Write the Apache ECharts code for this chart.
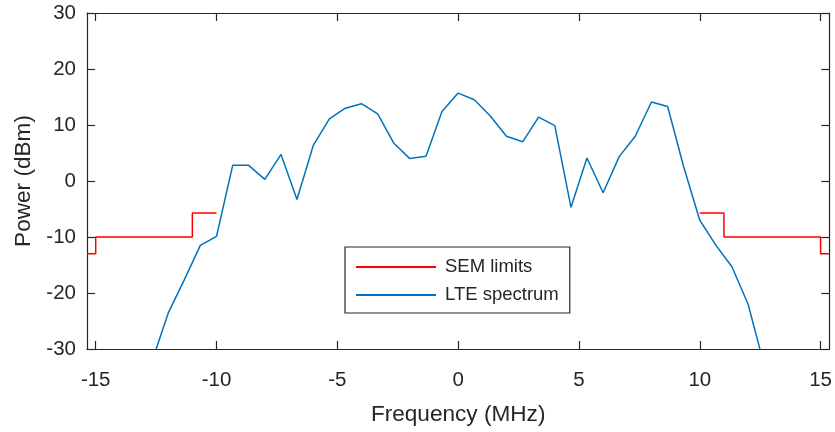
<!DOCTYPE html>
<html>
<head>
<meta charset="utf-8">
<script src="https://cdn.jsdelivr.net/npm/echarts@6/dist/echarts.min.js"></script>
<style>
html,body{margin:0;padding:0;background:#fff;}
#c{width:835px;height:432px;}
</style>
</head>
<body>
<div id="c"></div>
<script>
// ---- data ----
const lteFreq = [-12.67, -12, -11.33, -10.67, -10, -9.33, -8.67, -8, -7.33, -6.67, -6, -5.33, -4.67, -4, -3.33, -2.67, -2, -1.33, -0.67, 0, 0.67, 1.33, 2, 2.67, 3.33, 4, 4.67, 5.33, 6, 6.67, 7.33, 8, 8.67, 9.33, 10, 10.67, 11.33, 12, 12.67];
const ltePower = [-32.2, -23.6, -17.6, -11.5, -9.9, 2.8, 2.8, 0.3, 4.75, -3.3, 6.3, 11.1, 13.0, 13.8, 12.0, 6.8, 4.0, 4.4, 12.4, 15.7, 14.5, 11.6, 8.0, 7.0, 11.4, 9.9, -4.7, 4.1, -2.1, 4.4, 8.0, 14.1, 13.3, 2.6, -7.0, -11.5, -15.3, -22.0, -33.0];
const semLeftFreq = [-15.36, -15, -15, -11, -11, -10];
const semLeftPower = [-13, -13, -10, -10, -5.7, -5.7];
const semRightFreq = [10, 11, 11, 15, 15, 15.36];
const semRightPower = [-5.7, -5.7, -10, -10, -13, -13];
const xTicks = [-15, -10, -5, 0, 5, 10, 15];
const yTicks = [-30, -20, -10, 0, 10, 20, 30];
const xRange = [-15.36, 15.36];
const yRange = [-30, 30];
const seriesNames = ['SEM limits', 'LTE spectrum'];

const zip = (a, b) => a.map((v, i) => [v, b[i]]);
const FONT = "'Liberation Sans', Arial, Helvetica, sans-serif";
const AX = '#262626';

const chart = echarts.init(document.getElementById('c'), null, {renderer: 'canvas'});

const baseX = {
  type: 'value', min: xRange[0], max: xRange[1],
  splitLine: {show: false},
  axisLine: {onZero: false, lineStyle: {color: AX, width: 1.2}},
  axisTick: {inside: true, length: 8, lineStyle: {color: AX, width: 1.2}, customValues: xTicks},
};
const baseY = {
  type: 'value', min: yRange[0], max: yRange[1], interval: 10,
  splitLine: {show: false},
  axisLine: {onZero: false, lineStyle: {color: AX, width: 1.2}},
  axisTick: {inside: true, length: 8, lineStyle: {color: AX, width: 1.2}, customValues: yTicks},
};

chart.setOption({
  animation: false,
  textStyle: {fontFamily: FONT},
  grid: {left: 87, top: 13, right: 4, bottom: 83, containLabel: false},
  xAxis: [
    Object.assign({}, baseX, {
      position: 'bottom',
      name: 'Frequency (MHz)', nameLocation: 'middle', nameGap: 54,
      nameTextStyle: {color: AX, fontSize: 22.6, fontFamily: FONT},
      axisLabel: {color: AX, fontSize: 20.5, fontFamily: FONT, margin: 21, customValues: xTicks}
    }),
    Object.assign({}, baseX, {position: 'top', axisLabel: {show: false}})
  ],
  yAxis: [
    Object.assign({}, baseY, {
      position: 'left',
      name: 'Power (dBm)', nameLocation: 'middle', nameGap: 52, nameRotate: 90,
      nameTextStyle: {color: AX, fontSize: 22.6, fontFamily: FONT},
      axisLabel: {color: AX, fontSize: 20.5, fontFamily: FONT, margin: 11, padding: [4, 0, 0, 0], customValues: yTicks}
    }),
    Object.assign({}, baseY, {position: 'right', axisLabel: {show: false}})
  ],
  legend: {
    orient: 'vertical', left: 345, top: 247,
    data: seriesNames.map(n => ({name: n, icon: 'rect'})),
    itemWidth: 80, itemHeight: 2, itemGap: 8,
    padding: [10, 11, 8, 11],
    borderColor: AX, borderWidth: 1.2, backgroundColor: '#fff',
    textStyle: {color: AX, fontSize: 18.5, fontFamily: FONT, lineHeight: 20, padding: [0, 0, 0, 4]}
  },
  series: [
    {name: seriesNames[0], type: 'line', data: zip(semLeftFreq, semLeftPower), symbol: 'none',
     lineStyle: {color: '#FF0000', width: 1.5}, itemStyle: {color: '#FF0000'}, z: 3},
    {name: seriesNames[0], type: 'line', data: zip(semRightFreq, semRightPower), symbol: 'none',
     lineStyle: {color: '#FF0000', width: 1.5}, itemStyle: {color: '#FF0000'}, z: 3},
    {name: seriesNames[1], type: 'line', data: zip(lteFreq, ltePower), symbol: 'none', clip: true,
     lineStyle: {color: '#0072BD', width: 1.5}, itemStyle: {color: '#0072BD'}, z: 2}
  ]
});
</script>
</body>
</html>
